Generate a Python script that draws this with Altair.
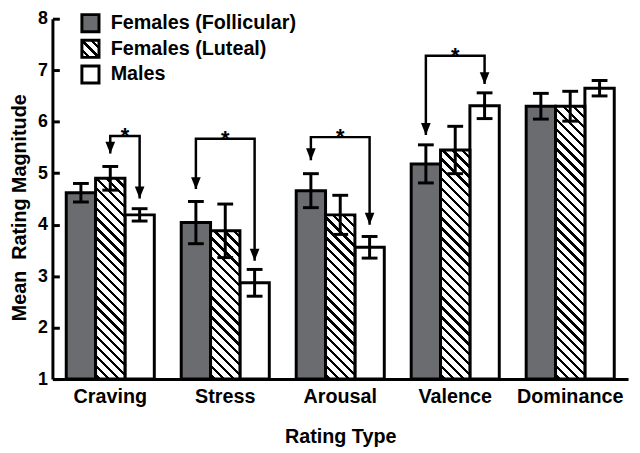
import json
import altair as alt
import pandas as pd

# ---------------- data ----------------
categories = ["Craving", "Stress", "Arousal", "Valence", "Dominance"]
groups = ["Females (Follicular)", "Females (Luteal)", "Males"]

follicular_mean = [4.62, 4.04, 4.66, 5.18, 6.30]
follicular_err = [0.18, 0.41, 0.33, 0.37, 0.25]
luteal_mean = [4.90, 3.88, 4.19, 5.45, 6.30]
luteal_err = [0.23, 0.52, 0.38, 0.46, 0.29]
male_mean = [4.19, 2.87, 3.56, 6.31, 6.65]
male_err = [0.12, 0.26, 0.21, 0.25, 0.15]

sig_category = ["Craving", "Stress", "Arousal", "Valence"]
sig_from = ["Females (Luteal)", "Females (Follicular)", "Females (Follicular)", "Females (Follicular)"]
sig_to = ["Males", "Males", "Males", "Males"]
sig_top = [5.72, 5.67, 5.70, 7.28]
sig_from_tip = [5.38, 4.69, 5.25, 5.74]
sig_to_tip = [4.51, 3.30, 4.00, 6.73]

y_ticks = [1, 2, 3, 4, 5, 6, 7, 8]

# ---------------- tables ----------------
rows = []
for g, means, errs in zip(groups, [follicular_mean, luteal_mean, male_mean],
                          [follicular_err, luteal_err, male_err]):
    for c, m, e in zip(categories, means, errs):
        rows.append({"category": c, "group": g, "mean": m, "lo": m - e, "hi": m + e})
bars = pd.DataFrame(rows)

brows = []
for i, (c, f, t, top, ft, tt) in enumerate(zip(sig_category, sig_from, sig_to, sig_top,
                                               sig_from_tip, sig_to_tip)):
    brows += [
        {"id": i, "category": c, "group": f, "value": ft, "order": 0},
        {"id": i, "category": c, "group": f, "value": top, "order": 1},
        {"id": i, "category": c, "group": t, "value": top, "order": 2},
        {"id": i, "category": c, "group": t, "value": tt, "order": 3},
    ]
brackets = pd.DataFrame(brows)
tips = brackets[brackets["order"].isin([0, 3])]
stars = pd.DataFrame({"category": sig_category, "from": sig_from, "top": sig_top,
                      "mid": ["Males" if f == "Females (Luteal)" else "Females (Luteal)" for f in sig_from],
                      "star": ["*"] * len(sig_category)})

# ---------------- layout / style ----------------
W, H = 583, 365
FONT = "Liberation Sans"
GRAY = "#6b6c6f"
PI, PO = 0.234, 0.12
step = W / (len(categories) - PI + 2 * PO)
sub_w = step * (1 - PI) / len(groups)
px_per_unit = H / 7.0


def hatch_gradient(w, h, spacing=10.0, thick=3.4, phase=4.0):
    L = w + h * h / w
    dmax = w + h
    stops = [{"offset": 0, "color": "white"}]
    d = phase
    while d - thick / 2 < dmax:
        a = round(max(d - thick / 2, 0) / L, 6)
        b = round(min(d + thick / 2, dmax) / L, 6)
        stops += [{"offset": a, "color": "white"}, {"offset": a, "color": "black"},
                  {"offset": b, "color": "black"}, {"offset": b, "color": "white"}]
        d += spacing
    stops.append({"offset": 1, "color": "white"})
    return {"gradient": "linear", "x1": 0, "y1": 1, "x2": 1, "y2": round(1 - h / w, 6),
            "stops": stops}


legend_grad = hatch_gradient(17, 17, spacing=9.5, thick=3.6, phase=7.5)
legend_grad_expr = json.dumps(legend_grad)

xscale = alt.Scale(domain=categories, paddingInner=PI, paddingOuter=PO)
offscale = alt.Scale(domain=groups, paddingInner=0, paddingOuter=0)
yscale = alt.Scale(domain=[1, 8], zero=False, nice=False)

xaxis = alt.Axis(title="Rating Type", labelAngle=0, ticks=False, labelPadding=8,
                 labelFontSize=20, titleFontSize=20, titleY=64, titleBaseline="alphabetic",
                 domainWidth=3)
yaxis = alt.Axis(title="Mean \u00a0Rating Magnitude", values=y_ticks, format="d",
                 tickSize={"expr": "-7"}, tickWidth=3, labelPadding=12,
                 labelFontSize=18, titleFontSize=20, titleX=-27, titleY=191,
                 titleBaseline="alphabetic", domainWidth=3, grid=False)


def X():
    return alt.X("category:N", sort=categories, scale=xscale, axis=xaxis)


def XO(field="group"):
    return alt.XOffset(f"{field}:N", sort=groups, scale=offscale)


def Y(field):
    return alt.Y(f"{field}:Q", scale=yscale, axis=yaxis)


base_bars = alt.Chart(bars).transform_filter(
    alt.datum.group != "Females (Luteal)"
).mark_bar(stroke="black", strokeWidth=3).encode(
    x=X(), xOffset=XO(), y=Y("mean"), y2=alt.datum(1),
    fill=alt.Fill("group:N", sort=groups,
                  scale=alt.Scale(domain=groups,
                                  range=[GRAY, {"expr": legend_grad_expr}, "white"]),
                  legend=alt.Legend(title=None, orient="none", legendX=28, legendY=-6,
                                    symbolType="square", symbolSize=300,
                                    symbolStrokeColor="black", symbolStrokeWidth=3,
                                    symbolFillColor="white",
                                    labelFontSize=20, labelFont=FONT, labelFontWeight="bold",
                                    labelColor="black",
                                    labelOffset=10, rowPadding=-5, labelLimit=400, padding=0)),
)

layers = [base_bars]
for c, m in zip(categories, luteal_mean):
    h = (m - 1) * px_per_unit
    layers.append(
        alt.Chart(bars).transform_filter(
            (alt.datum.group == "Females (Luteal)") & (alt.datum.category == c)
        ).mark_bar(stroke="black", strokeWidth=3, fill=hatch_gradient(sub_w, h)).encode(
            x=X(), xOffset=XO(), y=Y("mean"), y2=alt.datum(1)
        )
    )

err_rule = alt.Chart(bars).mark_rule(color="black", strokeWidth=3).encode(
    x=X(), xOffset=XO(), y=Y("lo"), y2="hi:Q")
cap_lo = alt.Chart(bars).mark_tick(color="black", thickness=3, size=16, opacity=1).encode(
    x=X(), xOffset=XO(), y=Y("lo"))
cap_hi = alt.Chart(bars).mark_tick(color="black", thickness=3, size=16, opacity=1).encode(
    x=X(), xOffset=XO(), y=Y("hi"))

bracket_lines = alt.Chart(brackets).mark_line(color="black", strokeWidth=2.5,
                                               strokeJoin="miter").encode(
    x=X(), xOffset=XO(), y=Y("value"), detail="id:N", order="order:Q")

arrows = alt.Chart(tips).mark_point(shape="M -0.8 -1 L 0.8 -1 L 0 1 Z", filled=True,
                                    color="black", size=150, opacity=1, yOffset=-6).encode(
    x=X(), xOffset=XO(), y=Y("value"))

star_mid = alt.Chart(stars).transform_filter(alt.datum["mid"] == "Females (Luteal)").mark_text(
    font=FONT, fontWeight="bold", fontSize=22, baseline="alphabetic", dy=7, color="black"
).encode(x=X(), xOffset=XO("mid"), y=Y("top"), text="star:N")
star_edge = alt.Chart(stars).transform_filter(alt.datum["mid"] == "Males").mark_text(
    font=FONT, fontWeight="bold", fontSize=22, baseline="alphabetic", dy=7,
    dx=-sub_w / 2, color="black"
).encode(x=X(), xOffset=XO("mid"), y=Y("top"), text="star:N")

layers += [err_rule, cap_lo, cap_hi, bracket_lines, arrows, star_mid, star_edge]

chart = alt.layer(*layers).properties(
    width=W, height=H,
    autosize=alt.AutoSizeParams(type="none"),
    padding={"left": 45, "top": 8, "right": 4, "bottom": 72},
    background="white",
).configure_view(stroke=None).configure_axis(
    labelFont=FONT, labelFontWeight="bold", labelColor="black",
    titleFont=FONT, titleFontWeight="bold", titleColor="black",
    domainColor="black", tickColor="black",
)

chart.save("out.html", embed_options={"renderer": "svg", "actions": False})
